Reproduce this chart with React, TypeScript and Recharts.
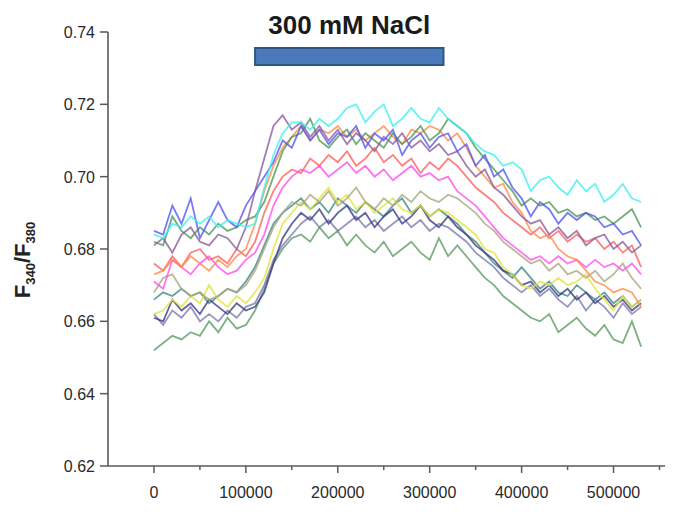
import React from 'react';
import { LineChart, Line, XAxis, YAxis, ReferenceArea } from 'recharts';

const times = [0, 10000, 20000, 30000, 40000, 50000, 60000, 70000, 80000, 90000, 100000, 110000, 120000, 130000, 140000, 150000, 160000, 170000, 180000, 190000, 200000, 210000, 220000, 230000, 240000, 250000, 260000, 270000, 280000, 290000, 300000, 310000, 320000, 330000, 340000, 350000, 360000, 370000, 380000, 390000, 400000, 410000, 420000, 430000, 440000, 450000, 460000, 470000, 480000, 490000, 500000, 510000, 520000, 530000];

const cyan = [0.684, 0.683, 0.687, 0.686, 0.689, 0.687, 0.689, 0.686, 0.688, 0.687, 0.686, 0.687, 0.697, 0.706, 0.712, 0.715, 0.715, 0.713, 0.716, 0.714, 0.716, 0.719, 0.72, 0.715, 0.718, 0.72, 0.714, 0.716, 0.719, 0.716, 0.715, 0.719, 0.716, 0.714, 0.712, 0.709, 0.707, 0.706, 0.703, 0.704, 0.702, 0.696, 0.699, 0.7, 0.697, 0.695, 0.699, 0.696, 0.698, 0.693, 0.695, 0.698, 0.694, 0.693];
const blue = [0.685, 0.684, 0.692, 0.687, 0.694, 0.683, 0.688, 0.693, 0.688, 0.686, 0.692, 0.696, 0.7, 0.704, 0.71, 0.708, 0.714, 0.71, 0.713, 0.709, 0.712, 0.711, 0.714, 0.708, 0.712, 0.71, 0.713, 0.706, 0.71, 0.712, 0.708, 0.711, 0.712, 0.707, 0.709, 0.703, 0.706, 0.7, 0.702, 0.697, 0.694, 0.689, 0.693, 0.691, 0.687, 0.69, 0.688, 0.69, 0.689, 0.686, 0.687, 0.684, 0.685, 0.681];
const purple = [0.681, 0.683, 0.679, 0.684, 0.686, 0.682, 0.681, 0.684, 0.683, 0.68, 0.686, 0.696, 0.705, 0.714, 0.717, 0.713, 0.715, 0.711, 0.714, 0.71, 0.713, 0.709, 0.712, 0.71, 0.707, 0.711, 0.709, 0.712, 0.708, 0.71, 0.707, 0.709, 0.706, 0.707, 0.703, 0.7, 0.702, 0.697, 0.695, 0.692, 0.689, 0.687, 0.688, 0.684, 0.686, 0.683, 0.685, 0.681, 0.683, 0.684, 0.68, 0.682, 0.679, 0.681];
const greenHigh = [0.682, 0.681, 0.689, 0.685, 0.683, 0.686, 0.684, 0.687, 0.685, 0.686, 0.688, 0.689, 0.693, 0.7, 0.707, 0.711, 0.712, 0.716, 0.71, 0.708, 0.711, 0.713, 0.709, 0.712, 0.71, 0.708, 0.712, 0.709, 0.711, 0.714, 0.71, 0.712, 0.716, 0.714, 0.712, 0.708, 0.705, 0.702, 0.699, 0.696, 0.692, 0.694, 0.692, 0.693, 0.69, 0.691, 0.689, 0.69, 0.688, 0.689, 0.687, 0.689, 0.691, 0.686];
const orange = [0.673, 0.674, 0.677, 0.675, 0.678, 0.676, 0.674, 0.677, 0.675, 0.678, 0.68, 0.687, 0.696, 0.703, 0.708, 0.711, 0.714, 0.71, 0.713, 0.712, 0.714, 0.711, 0.713, 0.71, 0.712, 0.714, 0.711, 0.709, 0.713, 0.712, 0.714, 0.713, 0.71, 0.712, 0.708, 0.703, 0.7, 0.697, 0.698, 0.693, 0.69, 0.685, 0.683, 0.684, 0.68, 0.678, 0.677, 0.674, 0.671, 0.67, 0.668, 0.669, 0.668, 0.664];
const red = [0.676, 0.674, 0.678, 0.675, 0.679, 0.68, 0.677, 0.678, 0.676, 0.68, 0.678, 0.682, 0.69, 0.696, 0.7, 0.702, 0.701, 0.705, 0.703, 0.706, 0.704, 0.707, 0.703, 0.705, 0.708, 0.704, 0.706, 0.703, 0.705, 0.701, 0.704, 0.702, 0.705, 0.703, 0.7, 0.697, 0.695, 0.693, 0.69, 0.688, 0.686, 0.684, 0.686, 0.683, 0.685, 0.682, 0.684, 0.682, 0.683, 0.68, 0.682, 0.679, 0.681, 0.675];
const magenta = [0.671, 0.669, 0.677, 0.675, 0.673, 0.676, 0.678, 0.675, 0.673, 0.674, 0.677, 0.679, 0.684, 0.692, 0.697, 0.7, 0.702, 0.701, 0.703, 0.7, 0.702, 0.704, 0.701, 0.703, 0.7, 0.702, 0.699, 0.701, 0.703, 0.7, 0.701, 0.699, 0.7, 0.696, 0.694, 0.692, 0.689, 0.686, 0.683, 0.681, 0.679, 0.677, 0.678, 0.676, 0.678, 0.676, 0.677, 0.675, 0.677, 0.675, 0.676, 0.674, 0.676, 0.673];
const khaki = [0.668, 0.672, 0.673, 0.669, 0.667, 0.668, 0.666, 0.667, 0.669, 0.668, 0.67, 0.674, 0.68, 0.686, 0.69, 0.693, 0.692, 0.695, 0.693, 0.696, 0.692, 0.694, 0.697, 0.693, 0.691, 0.694, 0.692, 0.695, 0.693, 0.696, 0.694, 0.693, 0.695, 0.694, 0.692, 0.69, 0.687, 0.685, 0.682, 0.68, 0.678, 0.676, 0.677, 0.674, 0.676, 0.673, 0.674, 0.672, 0.674, 0.671, 0.673, 0.676, 0.672, 0.669];
const yellow = [0.662, 0.663, 0.666, 0.664, 0.667, 0.665, 0.67, 0.666, 0.664, 0.667, 0.665, 0.668, 0.672, 0.68, 0.687, 0.69, 0.693, 0.691, 0.694, 0.697, 0.693, 0.695, 0.691, 0.693, 0.69, 0.692, 0.694, 0.691, 0.69, 0.692, 0.689, 0.691, 0.69, 0.688, 0.686, 0.684, 0.68, 0.679, 0.675, 0.673, 0.67, 0.669, 0.671, 0.67, 0.672, 0.67, 0.671, 0.673, 0.669, 0.666, 0.663, 0.667, 0.664, 0.666];
const navy = [0.661, 0.66, 0.666, 0.663, 0.665, 0.662, 0.666, 0.664, 0.662, 0.665, 0.663, 0.664, 0.668, 0.676, 0.683, 0.687, 0.69, 0.688, 0.691, 0.687, 0.69, 0.692, 0.688, 0.69, 0.686, 0.689, 0.691, 0.687, 0.689, 0.692, 0.688, 0.686, 0.689, 0.686, 0.684, 0.681, 0.679, 0.677, 0.674, 0.673, 0.67, 0.671, 0.668, 0.67, 0.667, 0.669, 0.666, 0.668, 0.665, 0.667, 0.664, 0.666, 0.663, 0.665];
const teal = [0.666, 0.668, 0.667, 0.669, 0.667, 0.668, 0.665, 0.667, 0.669, 0.668, 0.671, 0.675, 0.681, 0.687, 0.69, 0.692, 0.694, 0.691, 0.693, 0.69, 0.694, 0.692, 0.69, 0.693, 0.691, 0.689, 0.692, 0.694, 0.69, 0.692, 0.689, 0.691, 0.689, 0.687, 0.684, 0.682, 0.679, 0.676, 0.674, 0.672, 0.675, 0.672, 0.669, 0.671, 0.668, 0.667, 0.67, 0.668, 0.666, 0.668, 0.665, 0.667, 0.664, 0.666];
const grayPurple = [0.662, 0.659, 0.663, 0.661, 0.664, 0.66, 0.662, 0.66, 0.663, 0.661, 0.664, 0.665, 0.67, 0.677, 0.681, 0.684, 0.687, 0.689, 0.686, 0.688, 0.685, 0.687, 0.689, 0.686, 0.688, 0.685, 0.687, 0.689, 0.686, 0.688, 0.685, 0.687, 0.686, 0.684, 0.682, 0.679, 0.677, 0.675, 0.672, 0.67, 0.668, 0.67, 0.667, 0.669, 0.666, 0.664, 0.667, 0.663, 0.666, 0.664, 0.661, 0.665, 0.662, 0.664];
const greenLow = [0.652, 0.654, 0.656, 0.655, 0.657, 0.656, 0.66, 0.657, 0.661, 0.658, 0.659, 0.663, 0.669, 0.676, 0.68, 0.683, 0.684, 0.682, 0.686, 0.683, 0.685, 0.681, 0.684, 0.681, 0.679, 0.682, 0.678, 0.68, 0.682, 0.679, 0.677, 0.683, 0.678, 0.681, 0.678, 0.675, 0.672, 0.67, 0.667, 0.665, 0.663, 0.661, 0.66, 0.662, 0.657, 0.659, 0.661, 0.658, 0.656, 0.659, 0.655, 0.654, 0.66, 0.653];

const seriesList = [
  { key: 'greenLow', values: greenLow, color: '#5c9e64' },
  { key: 'grayPurple', values: grayPurple, color: '#7c7cae' },
  { key: 'teal', values: teal, color: '#3f8888' },
  { key: 'navy', values: navy, color: '#3c3c84' },
  { key: 'yellow', values: yellow, color: '#e4e43c' },
  { key: 'khaki', values: khaki, color: '#a9a97e' },
  { key: 'magenta', values: magenta, color: '#ff50f0' },
  { key: 'red', values: red, color: '#ff6060' },
  { key: 'orange', values: orange, color: '#ff8c4c' },
  { key: 'greenHigh', values: greenHigh, color: '#4f9a55' },
  { key: 'purple', values: purple, color: '#8c5c9c' },
  { key: 'blue', values: blue, color: '#5858f0' },
  { key: 'cyan', values: cyan, color: '#40f0f0' },
];

const xTicks = [0, 50000, 100000, 150000, 200000, 250000, 300000, 350000, 400000, 450000, 500000, 550000];
const yTicks = [0.62, 0.64, 0.66, 0.68, 0.70, 0.72, 0.74];
const naclStart = 110000;
const naclEnd = 315000;
const naclLow = 0.7309;
const naclHigh = 0.7356;
const naclLabel = '300 mM NaCl';

const data = times.map((t, i) => {
  const row: Record<string, number> = { t };
  seriesList.forEach((s) => { row[s.key] = s.values[i]; });
  return row;
});

const FONT = '"Liberation Sans", Arial, sans-serif';

const XTick = (props: any) => {
  const { x, y, payload } = props;
  const major = payload.value % 100000 === 0;
  return (
    <g>
      <line x1={x} x2={x} y1={y} y2={y + (major ? 7 : 4)} stroke="#5a5a5a" strokeWidth={1.5} />
      {major && (
        <text x={x} y={y + 32} textAnchor="middle" fontSize={16} fill="#2a2a2a" fontFamily={FONT}>
          {payload.value}
        </text>
      )}
    </g>
  );
};

const YTick = (props: any) => {
  const { x, y, payload } = props;
  return (
    <g>
      <line x1={x - 8} x2={x} y1={y} y2={y} stroke="#5a5a5a" strokeWidth={1.5} />
      <text x={x - 13} y={y + 6} textAnchor="end" fontSize={16} fill="#2a2a2a" fontFamily={FONT}>
        {Number(payload.value).toFixed(2)}
      </text>
    </g>
  );
};

const YLabel = (props: any) => {
  const vb = props.viewBox || {};
  const cy = vb.y !== undefined ? vb.y + vb.height / 2 + 11 : 260;
  const cx = 30;
  return (
    <text
      x={cx}
      y={cy}
      transform={`rotate(-90, ${cx}, ${cy})`}
      textAnchor="middle"
      fontSize={22}
      fontWeight="bold"
      fill="#222"
      fontFamily={FONT}
    >
      <tspan>F</tspan>
      <tspan fontSize={13} dy={5}>340</tspan>
      <tspan dy={-5}>/F</tspan>
      <tspan fontSize={13} dy={5}>380</tspan>
    </text>
  );
};

export default function App() {
  return (
    <div style={{ position: 'absolute', left: 0, top: 0, background: '#fff' }}>
      <LineChart width={674} height={514} data={data} margin={{ top: 32, right: 9, bottom: 0, left: 0 }}>
        <XAxis
          dataKey="t"
          type="number"
          domain={[-50000, 556000]}
          ticks={xTicks}
          interval={0}
          height={48}
          tickSize={0}
          tickMargin={0}
          tickLine={false}
          tick={<XTick />}
          axisLine={{ stroke: '#5a5a5a', strokeWidth: 1.6 }}
          allowDataOverflow
        />
        <YAxis
          type="number"
          domain={[0.62, 0.74]}
          ticks={yTicks}
          interval={0}
          width={108}
          tickSize={0}
          tickMargin={0}
          tickLine={false}
          tick={<YTick />}
          axisLine={{ stroke: '#5a5a5a', strokeWidth: 1.6 }}
          label={<YLabel />}
          allowDataOverflow
        />
        {seriesList.map((s) => (
          <Line
            key={s.key}
            dataKey={s.key}
            type="linear"
            stroke={s.color}
            strokeWidth={1.8}
            strokeOpacity={0.8}
            dot={false}
            isAnimationActive={false}
          />
        ))}
        <ReferenceArea
          x1={naclStart}
          x2={naclEnd}
          y1={naclLow}
          y2={naclHigh}
          fill="#4a7aba"
          fillOpacity={1}
          stroke="#2f5786"
          strokeWidth={2}
          label={{ value: naclLabel, position: 'top', offset: 14, fontSize: 26, fontWeight: 'bold', fill: '#1a1a1a', fontFamily: FONT }}
        />
      </LineChart>
    </div>
  );
}
